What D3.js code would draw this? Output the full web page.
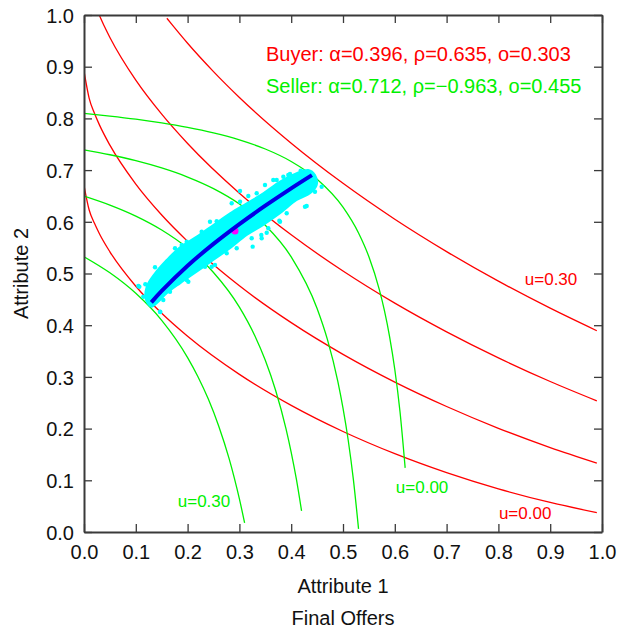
<!DOCTYPE html>
<html><head><meta charset="utf-8">
<script src="https://cdn.jsdelivr.net/npm/d3@7"></script>
<style>
body{margin:0;background:#fff}
svg{display:block}
text{font-family:"Liberation Sans",Arial,Helvetica,sans-serif}
</style>
</head><body>
<svg id="chart" width="619" height="635"></svg>
<script>
// ---------- data ----------
const xTicks = [0,0.1,0.2,0.3,0.4,0.5,0.6,0.7,0.8,0.9,1.0];
const yTicks = [0,0.1,0.2,0.3,0.4,0.5,0.6,0.7,0.8,0.9,1.0];
const xLabel = "Attribute 1";
const yLabel = "Attribute 2";
const title = "Final Offers";
const legendLines = ["Buyer: \u03b1=0.396, \u03c1=0.635, o=0.303", "Seller: \u03b1=0.712, \u03c1=\u22120.963, o=0.455"];

// buyer indifference curves (red), u = 0.00, 0.10, 0.20, 0.30
const buyerU00 = [[0,0.6703],[0.01,0.6229],[0.02,0.5975],[0.03,0.5765],[0.05,0.5420],[0.1,0.4754],[0.15,0.4231],[0.2,0.3786],[0.3,0.3049],[0.4,0.2449],[0.5,0.1944],[0.6,0.1515],[0.7,0.1148],[0.8,0.0834],[0.9,0.0571],[0.99,0.0375]];
const buyerU10 = [[0,0.8914],[0.01,0.8389],[0.02,0.8104],[0.03,0.7870],[0.05,0.7482],[0.1,0.6729],[0.15,0.6132],[0.2,0.5622],[0.3,0.4762],[0.4,0.4049],[0.5,0.3436],[0.6,0.2900],[0.7,0.2428],[0.8,0.2006],[0.9,0.1633],[0.99,0.1333]];
const buyerU20 = [[0.03,0.9989],[0.04,0.9767],[0.05,0.9566],[0.1,0.8740],[0.15,0.8082],[0.2,0.7515],[0.3,0.6554],[0.4,0.5748],[0.5,0.5048],[0.6,0.4426],[0.7,0.3871],[0.8,0.3368],[0.9,0.2911],[0.99,0.2537]];
const buyerU30 = [[0.16,0.9937],[0.17,0.9813],[0.2,0.9453],[0.25,0.8905],[0.3,0.8405],[0.4,0.7520],[0.5,0.6744],[0.6,0.6050],[0.7,0.5424],[0.8,0.4852],[0.9,0.4329],[0.99,0.3893]];

// seller indifference curves (green), u = 0.00, 0.10, 0.20, 0.30
const sellerU00 = [[0,0.8097],[0.05,0.8045],[0.1,0.7985],[0.15,0.7913],[0.2,0.7826],[0.25,0.7719],[0.3,0.7584],[0.35,0.7408],[0.4,0.7167],[0.45,0.6822],[0.5,0.6283],[0.53,0.5784],[0.55,0.5324],[0.57,0.4692],[0.58,0.4281],[0.59,0.3775],[0.6,0.3143],[0.61,0.2330],[0.62,0.1240]];
const sellerU10 = [[0,0.7393],[0.05,0.7297],[0.1,0.7182],[0.15,0.7041],[0.2,0.6866],[0.25,0.6642],[0.3,0.6345],[0.35,0.5933],[0.4,0.5321],[0.45,0.4323],[0.47,0.3720],[0.49,0.2915],[0.5,0.2397],[0.51,0.1780],[0.52,0.1018],[0.53,0.0061]];
const sellerU20 = [[0,0.6497],[0.05,0.6323],[0.1,0.6110],[0.15,0.5841],[0.2,0.5491],[0.25,0.5020],[0.3,0.4350],[0.33,0.3792],[0.35,0.3322],[0.37,0.2738],[0.39,0.1996],[0.4,0.1542],[0.41,0.1022],[0.42,0.0409]];
const sellerU30 = [[0,0.5324],[0.05,0.5013],[0.1,0.4616],[0.15,0.4094],[0.2,0.3374],[0.22,0.3004],[0.24,0.2571],[0.26,0.2052],[0.28,0.1424],[0.29,0.1053],[0.3,0.0642],[0.31,0.0177]];

// contract curve (blue)
const contractCurve = [[0.130,0.4441],[0.15,0.4662],[0.2,0.5150],[0.25,0.5573],[0.3,0.5956],[0.35,0.6311],[0.4,0.6647],[0.44,0.6903]];

// final offers cloud (cyan): outline of dense region, and scattered dots
const cloudUpper = [[0.1210,0.4745],[0.1371,0.5004],[0.1596,0.5261],[0.1853,0.5507],[0.2175,0.5712],[0.2496,0.5938],[0.2819,0.6164],[0.3141,0.6358],[0.3461,0.6551],[0.3784,0.6776],[0.4106,0.6938],[0.4330,0.7002],[0.4459,0.6905]];
const cloudLower = [[0.4492,0.6712],[0.4363,0.6551],[0.4106,0.6422],[0.3784,0.6164],[0.3461,0.5938],[0.3141,0.5745],[0.2819,0.5487],[0.2496,0.5261],[0.2175,0.5035],[0.1853,0.4810],[0.1596,0.4617],[0.1403,0.4424],[0.1307,0.4358],[0.1197,0.4487]];
const cloudDots = [[0.1068,0.4745],[0.1049,0.4760],[0.1184,0.4791],[0.1371,0.5120],[0.1886,0.5551],[0.2432,0.6002],[0.2562,0.6010],[0.3012,0.6596],[0.3172,0.6499],[0.3494,0.6712],[0.3720,0.6809],[0.3848,0.6872],[0.3977,0.6925],[0.4183,0.6989],[0.4588,0.6679],[0.4299,0.6306],[0.4266,0.6292],[0.3771,0.6021],[0.3784,0.6002],[0.3527,0.5789],[0.3430,0.5681],[0.3423,0.5745],[0.3256,0.5519],[0.2948,0.5487],[0.2529,0.5164],[0.2465,0.5132],[0.2014,0.4841],[0.1454,0.4551],[0.1467,0.4261],[0.1473,0.4255],
  [0.1757,0.5487],[0.1983,0.5615],[0.2272,0.5809],[0.2658,0.5971],[0.2851,0.6358],[0.3012,0.6389],[0.3334,0.6551],[0.3654,0.6809],[0.3944,0.6905],[0.4234,0.6969],[0.4459,0.6582],[0.3913,0.6164],[0.3558,0.5874],[0.3237,0.5681],[0.2755,0.5391],[0.2336,0.5132],[0.1983,0.4874],[0.1660,0.4648],[0.1531,0.4487],[0.1274,0.4648],[0.1145,0.4551]];
const meanOffer = [0.2915,0.5822];

const curveLabels = [
  {text:"u=0.30", series:"buyer", x:0.851, y:0.478},
  {text:"u=0.00", series:"buyer", x:0.801, y:0.026},
  {text:"u=0.00", series:"seller", x:0.602, y:0.0764},
  {text:"u=0.30", series:"seller", x:0.181, y:0.0484}
];

// ---------- drawing ----------
const W = 619, H = 635;
const L = 84, R = 602, T = 15, B = 532;
const RED = "#ff0000", GREEN = "#00f000", CYAN = "#00ffff", BLUE = "#0000e6", MAGENTA = "#ff00ff";
const AXIS = "#3a3a3a";

const svg = d3.select("#chart");
svg.append("rect").attr("width",W).attr("height",H).attr("fill","#fff");

const x = d3.scaleLinear().domain([0,1]).range([L,R]);
const y = d3.scaleLinear().domain([0,1]).range([B,T]);

svg.append("clipPath").attr("id","plotclip")
  .append("rect").attr("x",L).attr("y",T).attr("width",R-L).attr("height",B-T);

const plot = svg.append("g").attr("clip-path","url(#plotclip)");

const line = d3.line().x(d=>x(d[0])).y(d=>y(d[1])).curve(d3.curveMonotoneX);

[buyerU00,buyerU10,buyerU20,buyerU30].forEach(c=>{
  plot.append("path").attr("d",line(c)).attr("fill","none").attr("stroke",RED).attr("stroke-width",1.3);
});
[sellerU00,sellerU10,sellerU20,sellerU30].forEach(c=>{
  plot.append("path").attr("d",line(c)).attr("fill","none").attr("stroke",GREEN).attr("stroke-width",1.3);
});

// cloud
const cloudPts = cloudUpper.concat(cloudLower);
const area = d3.line().x(d=>x(d[0])).y(d=>y(d[1])).curve(d3.curveCatmullRomClosed.alpha(0.5));
plot.append("path").attr("d",area(cloudPts)).attr("fill",CYAN).attr("stroke",CYAN)
  .attr("stroke-width",2).attr("stroke-linejoin","round");
plot.selectAll("circle.dot").data(cloudDots).join("circle").attr("class","dot")
  .attr("cx",d=>x(d[0])).attr("cy",d=>y(d[1])).attr("r",2.2).attr("fill",CYAN);

// mean offer
plot.append("circle").attr("cx",x(meanOffer[0])).attr("cy",y(meanOffer[1])).attr("r",3.5).attr("fill",MAGENTA);

// contract curve
const cline = d3.line().x(d=>x(d[0])).y(d=>y(d[1])).curve(d3.curveCatmullRom.alpha(0.5));
plot.append("path").attr("d",cline(contractCurve)).attr("fill","none").attr("stroke",BLUE)
  .attr("stroke-width",4).attr("stroke-linecap","butt");

// axes
const fmt = d3.format(".1f");
function styleAxis(g, labels){
  g.select(".domain").attr("stroke",AXIS).attr("stroke-width",2);
  g.selectAll(".tick line").attr("stroke",AXIS).attr("stroke-width",1.3);
  g.selectAll(".tick text").attr("fill","#111").attr("font-size", labels ? "20px" : "0px")
    .attr("font-family",'"Liberation Sans",Arial,sans-serif');
}
const gB = svg.append("g").attr("transform",`translate(0,${B})`)
  .call(d3.axisBottom(x).tickValues(xTicks).tickFormat(fmt).tickSizeInner(-8).tickSizeOuter(0).tickPadding(13));
styleAxis(gB,true);
const gL = svg.append("g").attr("transform",`translate(${L},0)`)
  .call(d3.axisLeft(y).tickValues(yTicks).tickFormat(fmt).tickSizeInner(-8).tickSizeOuter(0).tickPadding(10));
styleAxis(gL,true);
gL.selectAll(".tick text").attr("dy","0.36em");
const gT = svg.append("g").attr("transform",`translate(0,${T})`)
  .call(d3.axisTop(x).tickValues(xTicks).tickFormat("").tickSizeInner(-8).tickSizeOuter(0));
styleAxis(gT,false);
const gR = svg.append("g").attr("transform",`translate(${R},0)`)
  .call(d3.axisRight(y).tickValues(yTicks).tickFormat("").tickSizeInner(-8).tickSizeOuter(0));
styleAxis(gR,false);

// axis titles
svg.append("text").attr("x",(L+R)/2).attr("y",593).attr("text-anchor","middle")
  .attr("font-size","20px").attr("fill","#111").text(xLabel);
svg.append("text").attr("x",(L+R)/2).attr("y",625).attr("text-anchor","middle")
  .attr("font-size","20px").attr("fill","#111").text(title);
svg.append("text").attr("transform",`translate(28,${(T+B)/2}) rotate(-90)`).attr("text-anchor","middle")
  .attr("font-size","20px").attr("fill","#111").text(yLabel);

// legend
svg.append("text").attr("x",266).attr("y",61).attr("font-size","20px").attr("fill",RED).text(legendLines[0]);
svg.append("text").attr("x",266).attr("y",92.5).attr("font-size","20px").attr("fill",GREEN).text(legendLines[1]);

// curve labels
svg.selectAll("text.cl").data(curveLabels).join("text").attr("class","cl")
  .attr("x",d=>x(d.x)).attr("y",d=>y(d.y)).attr("font-size","17px")
  .attr("fill",d=>d.series==="buyer"?RED:GREEN).text(d=>d.text);
</script>
</body></html>
